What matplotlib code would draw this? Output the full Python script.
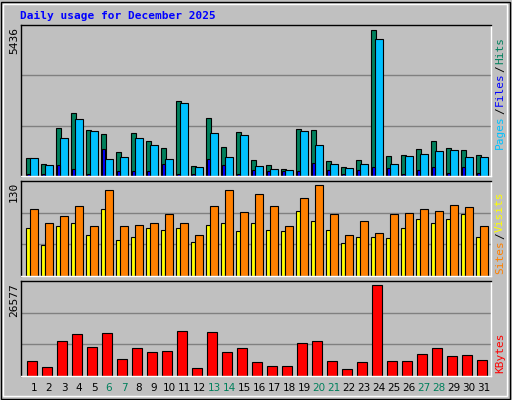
import matplotlib
matplotlib.use("Agg")
import matplotlib.pyplot as plt
from matplotlib.patches import Rectangle

days = list(range(1, 32))
weekends = [6, 7, 13, 14, 20, 21, 27, 28]
hits = [655,432,1766,2322,1692,1544,877,1581,1284,1025,2779,358,2137,1062,1618,580,395,247,1729,1692,543,321,580,5436,729,766,988,1284,1025,951,766]
files = [655,395,1396,2100,1655,618,692,1396,1136,618,2729,321,1581,692,1507,358,247,210,1655,1136,432,284,432,5101,432,729,803,914,951,692,692]
pages = [74,74,395,247,74,988,173,173,173,432,74,74,618,395,74,210,173,173,173,469,210,74,210,321,284,74,210,321,99,321,99]
sites = [69,44,72,76,59,95,52,55,68,65,68,49,73,75,64,75,65,64,93,78,66,47,55,55,54,69,81,76,82,88,55]
visits = [96,76,86,100,72,123,72,73,76,89,76,59,100,123,92,117,100,72,112,130,89,59,79,62,89,90,95,93,102,99,72]
kbytes = [4462,2716,10282,12320,8536,12611,5044,8245,7081,7372,13193,2425,12902,7081,8245,4171,3007,3007,9700,10282,4462,2134,4171,26577,4462,4462,6499,8245,5917,6208,4753]

W, H = 512, 400
fig = plt.figure(figsize=(W/100, H/100), dpi=100)
fig.patch.set_facecolor("#C0C0C0")
mono = "DejaVu Sans Mono"

fig.add_artist(Rectangle((1/W, 1/H), (W-3)/W, (H-3)/H, transform=fig.transFigure,
                         fill=False, edgecolor="black", lw=1))
fig.add_artist(Rectangle((3/W, 4/H), (W-8)/W, (H-8)/H, transform=fig.transFigure,
                         fill=False, edgecolor="white", lw=1))

fig.text(20/W, 1-16/H, "Daily usage for December 2025", color="#0000FF",
         fontsize=8, fontweight="bold", family=mono, va="center")

def mkax(top, bottom):
    ax = fig.add_axes([21/W, 1-bottom/H, 470/W, (bottom-top)/H])
    ax.set_facecolor("#C0C0C0")
    ax.set_xlim(0.133, 31.47)
    ax.set_xticks([]); ax.set_yticks([])
    for s in ax.spines.values():
        s.set_color("black"); s.set_linewidth(1)
    ax.spines["bottom"].set_color("white"); ax.spines["right"].set_color("white")
    return ax

def grid(ax, top):
    ax.set_ylim(0, top)
    for f in (1/3, 2/3):
        ax.axhline(top*f, color="#808080", lw=1, zorder=0)

bk = dict(edgecolor="black", linewidth=0.8, align="edge", zorder=2)

ax1 = mkax(25, 176)
top1 = 5436*454/440
grid(ax1, top1)
ax1.bar([d-0.51 for d in days], hits, width=0.31, color="#00805C", **bk)
ax1.bar([d-0.25 for d in days], files, width=0.49, color="#00C0FF", **bk)
ax1.bar([d-0.45 for d in days], pages, width=0.2, color="#0000FF", **bk)
fig.text(14/W, 1-27/H, "5436", rotation=90, fontsize=8, family=mono, va="top", ha="center")

ax2 = mkax(181, 276)
top2 = 130*288/276
grid(ax2, top2)
ax2.bar([d-0.51 for d in days], sites, width=0.27, color="#FFFF00", **bk)
ax2.bar([d-0.25 for d in days], visits, width=0.49, color="#FF8000", **bk)
fig.text(14/W, 1-182/H, "130", rotation=90, fontsize=8, family=mono, va="top", ha="center")

ax3 = mkax(281, 376)
top3 = 26577*286/274
grid(ax3, top3)
ax3.bar([d-0.45 for d in days], kbytes, width=0.67, color="#FF0000", **bk)
fig.text(14/W, 1-283/H, "26577", rotation=90, fontsize=8, family=mono, va="top", ha="center")

for d in days:
    fig.text((21 + (d-0.133)*15)/W, 1-388/H, str(d), fontsize=7.5, family="DejaVu Sans",
             ha="center", va="center", color="#00805C" if d in weekends else "black")

renderer = fig.canvas.get_renderer()

def rlabel(parts, y_bottom):
    y = y_bottom
    for txt, col in parts:
        t = fig.text(500/W, y/H, txt, rotation=90, color=col, fontsize=8, family=mono,
                     ha="center", va="bottom")
        bb = t.get_window_extent(renderer)
        y += bb.height + 1

rlabel([("Pages", "#00C0FF"), ("/", "black"), ("Files", "#0000FF"), ("/", "black"), ("Hits", "#00805C")], 400-177+28)
rlabel([("Sites", "#FF8000"), ("/", "black"), ("Visits", "#FFFF00")], 400-276+2)
rlabel([("KBytes", "#FF0000")], 400-376+3)

fig.savefig("out.png", dpi=100, facecolor=fig.get_facecolor())
